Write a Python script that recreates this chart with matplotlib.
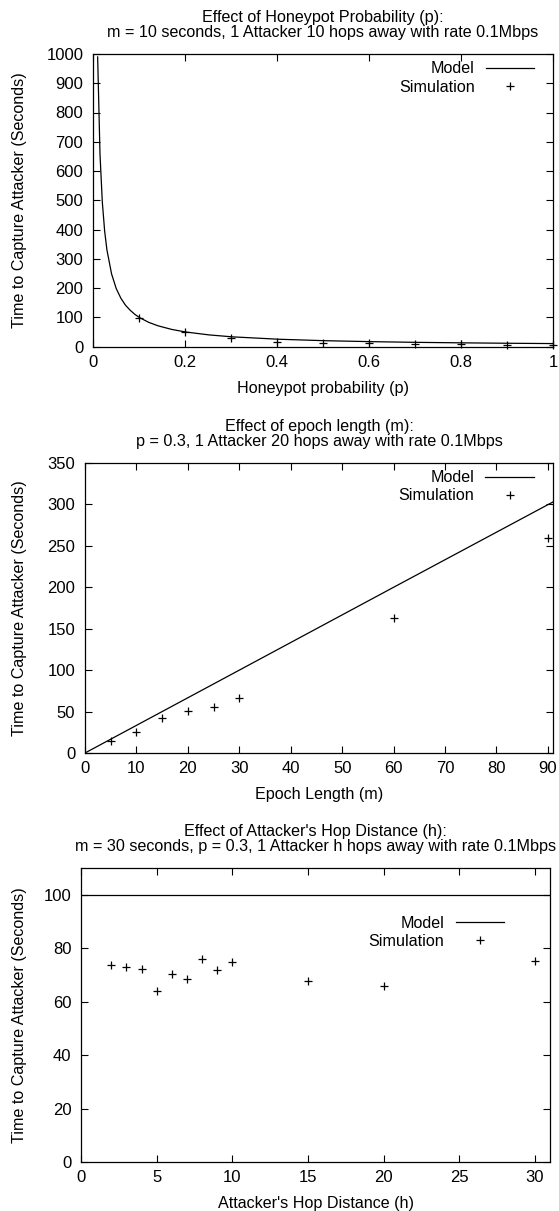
import matplotlib
matplotlib.use("Agg")
import matplotlib.pyplot as plt

plt.rcParams['font.family'] = ['Liberation Sans', 'DejaVu Sans']
plt.rcParams['font.size'] = 11.6

# panel 1: honeypot probability
p_model = [0.0101, 0.0152, 0.0202, 0.0253, 0.0303, 0.0404, 0.0505, 0.0606,
           0.0707, 0.0808, 0.0909, 0.101, 0.1212, 0.1414, 0.1717, 0.202,
           0.2525, 0.303, 0.404, 0.505, 0.606, 0.707, 0.808, 0.909, 1.0]
t_model_p = [990, 658, 495, 395, 330, 248, 198, 165, 141, 124, 110, 99, 82.5,
             70.7, 58.2, 49.5, 39.6, 33, 24.8, 19.8, 16.5, 14.1, 12.4, 11, 10]
p_sim = [0.1, 0.2, 0.3, 0.4, 0.5, 0.6, 0.7, 0.8, 0.9, 1.0]
t_sim_p = [97, 50, 28, 17, 13, 11, 8, 8, 4, 4]

# panel 2: epoch length
m_model = [0, 30, 60, 91]
t_model_m = [0, 100, 200, 303]
m_sim = [5, 10, 15, 20, 25, 30, 60, 90]
t_sim_m = [14, 25, 42, 51, 56, 66, 163, 260]

# panel 3: hop distance
h_model = [0, 31]
t_model_h = [100, 100]
h_sim = [2, 3, 4, 5, 6, 7, 8, 9, 10, 15, 20, 30]
t_sim_h = [73.7, 73.1, 72.1, 63.8, 70.5, 68.3, 76.0, 71.8, 74.7, 67.8, 66.0, 75.3]

W, H = 559, 1211
fig = plt.figure(figsize=(W / 100, H / 100), dpi=100)


def box(l, r, t, b):
    return [l / W, (H - b) / H, (r - l) / W, (b - t) / H]


def style(ax):
    ax.tick_params(direction='in', length=5, width=0.8, top=True, right=True,
                   labelsize=12)
    ax.tick_params(axis='y', pad=7)
    ax.tick_params(axis='x', pad=6)
    for s in ax.spines.values():
        s.set_linewidth(0.9)


panels = [
    dict(l=93, r=553, t=54, b=346.5, xm=p_model, ym=t_model_p, xs=p_sim, ys=t_sim_p,
         xlim=(0, 1), ylim=(0, 1000),
         xt=[0, 0.2, 0.4, 0.6, 0.8, 1.0], xtl=['0', '0.2', '0.4', '0.6', '0.8', '1'],
         yt=list(range(0, 1001, 100)),
         title=["Effect of Honeypot Probability (p):",
                "m = 10 seconds, 1 Attacker 10 hops away with rate 0.1Mbps"],
         xlabel="Honeypot probability (p)", leg=(0.959, 0.975)),
    dict(l=85, r=553, t=463, b=753, xm=m_model, ym=t_model_m, xs=m_sim, ys=t_sim_m,
         xlim=(0, 91), ylim=(0, 350),
         xt=list(range(0, 91, 10)), xtl=None,
         yt=list(range(0, 351, 50)),
         title=["Effect of epoch length (m):",
                "p = 0.3, 1 Attacker 20 hops away with rate 0.1Mbps"],
         xlabel="Epoch Length (m)", leg=(0.959, 0.975)),
    dict(l=81, r=550, t=868, b=1162, xm=h_model, ym=t_model_h, xs=h_sim, ys=t_sim_h,
         xlim=(0, 31), ylim=(0, 110),
         xt=list(range(0, 31, 5)), xtl=None,
         yt=list(range(0, 101, 20)),
         title=["Effect of Attacker's Hop Distance (h):",
                "m = 30 seconds, p = 0.3, 1 Attacker h hops away with rate 0.1Mbps"],
         xlabel="Attacker's Hop Distance (h)", leg=(0.902, 0.838)),
]

for pn in panels:
    ax = fig.add_axes(box(pn['l'], pn['r'], pn['t'], pn['b']))
    ax.plot(pn['xm'], pn['ym'], color='black', lw=0.9, label='Model')
    ax.plot(pn['xs'], pn['ys'], linestyle='none', marker='+', color='black',
            ms=5.5, mew=0.9, label='Simulation', clip_on=False)
    ax.set_xlim(*pn['xlim'])
    ax.set_ylim(*pn['ylim'])
    ax.set_xticks(pn['xt'])
    if pn['xtl']:
        ax.set_xticklabels(pn['xtl'])
    ax.set_yticks(pn['yt'])
    style(ax)
    ax.set_title("\n".join(pn['title']), fontsize=11.6, pad=12, linespacing=1.05)
    ax.set_xlabel(pn['xlabel'], labelpad=8)
    ax.set_ylabel("Time to Capture Attacker (Seconds)")
    ax.yaxis.label.set_va('center')
    ax.yaxis.set_label_coords((20 - pn['l']) / (pn['r'] - pn['l']), 0.5)
    ax.legend(loc='upper right', bbox_to_anchor=pn['leg'], frameon=False,
              markerfirst=False, handlelength=3.0, handletextpad=0.7,
              labelspacing=0.2, borderaxespad=0, borderpad=0)

fig.savefig("out.png", dpi=100)
